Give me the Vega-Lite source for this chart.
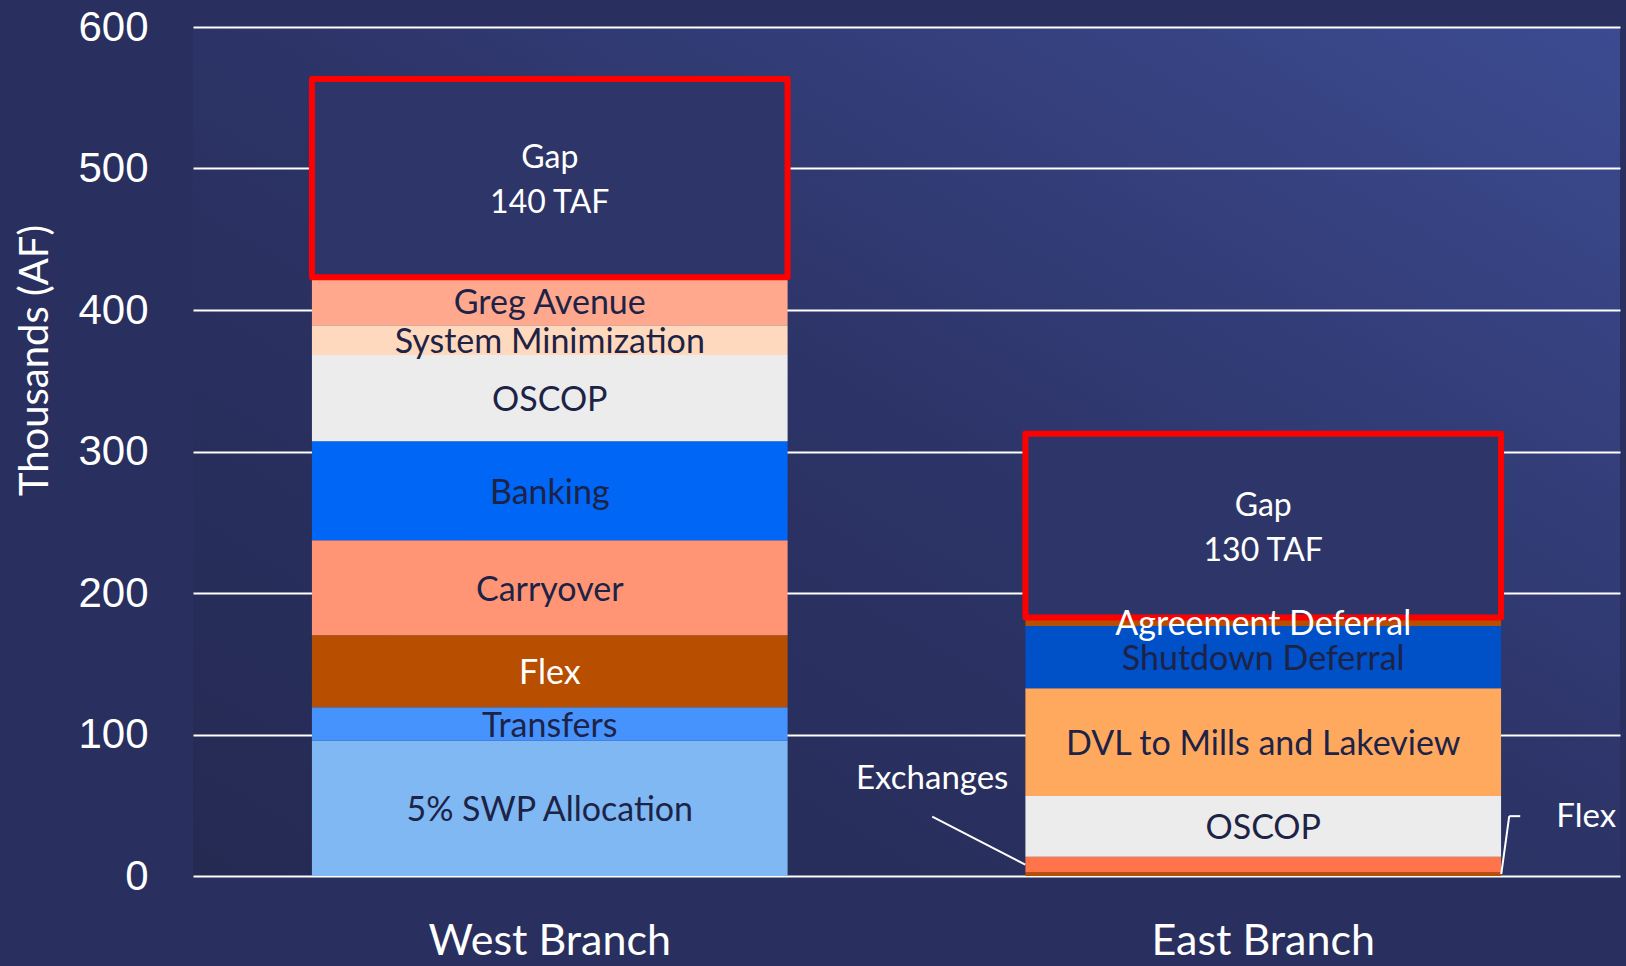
{
  "$schema": "https://vega.github.io/schema/vega-lite/v6.json",
  "width": 1427,
  "height": 849,
  "autosize": {"type": "none"},
  "padding": {"left": 193, "top": 27, "right": 6, "bottom": 90},
  "background": "#292f5e",
  "config": {
    "view": {
      "stroke": null,
      "fill": {
        "gradient": "linear",
        "x1": 0, "y1": 1, "x2": 1, "y2": 0,
        "stops": [
          {"offset": 0, "color": "#242a52"},
          {"offset": 0.5, "color": "#2c3366"},
          {"offset": 1, "color": "#3c4b91"}
        ]
      }
    },
    "font": "Lato"
  },
  "data": {
    "values": [
      {"branch": "West Branch", "category": "5% SWP Allocation", "label": "5% SWP Allocation", "order": 1, "value": 95.6},
      {"branch": "West Branch", "category": "Transfers", "label": "Transfers", "order": 2, "value": 23.6},
      {"branch": "West Branch", "category": "Flex", "label": "Flex", "order": 3, "value": 51},
      {"branch": "West Branch", "category": "Carryover", "label": "Carryover", "order": 4, "value": 67},
      {"branch": "West Branch", "category": "Banking", "label": "Banking", "order": 5, "value": 70},
      {"branch": "West Branch", "category": "OSCOP", "label": "OSCOP", "order": 6, "value": 61},
      {"branch": "West Branch", "category": "System Minimization", "label": "System Minimization", "order": 7, "value": 21},
      {"branch": "West Branch", "category": "Greg Avenue", "label": "Greg Avenue", "order": 8, "value": 34},
      {"branch": "West Branch", "category": "Gap", "label": "Gap\n140 TAF", "order": 9, "value": 140},
      {"branch": "East Branch", "category": "Flex", "label": "", "order": 1, "value": 2.6},
      {"branch": "East Branch", "category": "Exchanges", "label": "", "order": 2, "value": 11},
      {"branch": "East Branch", "category": "OSCOP", "label": "OSCOP", "order": 3, "value": 43},
      {"branch": "East Branch", "category": "DVL to Mills and Lakeview", "label": "DVL to Mills and Lakeview", "order": 4, "value": 76},
      {"branch": "East Branch", "category": "Shutdown Deferral", "label": "Shutdown Deferral", "order": 5, "value": 44},
      {"branch": "East Branch", "category": "Agreement Deferral", "label": "Agreement Deferral", "order": 6, "value": 6},
      {"branch": "East Branch", "category": "Gap", "label": "Gap\n130 TAF", "order": 7, "value": 130}
    ]
  },
  "transform": [
    {"stack": "value", "groupby": ["branch"], "sort": [{"field": "order"}], "as": ["v0", "v1"]},
    {"calculate": "(datum.v0 + datum.v1) / 2", "as": "vmid"}
  ],
  "encoding": {
    "x": {
      "field": "branch",
      "type": "nominal",
      "sort": ["West Branch", "East Branch"],
      "scale": {"paddingInner": 0.3333, "paddingOuter": 0.1667},
      "axis": {
        "title": null,
        "domain": false,
        "ticks": false,
        "tickSize": 0,
        "labelFont": "Lato",
        "labelFontSize": 43,
        "labelColor": "#ffffff",
        "labelPadding": 78,
        "labelBaseline": "alphabetic",
        "labelAngle": 0,
        "labelLimit": 600
      }
    }
  },
  "layer": [
    {
      "mark": {"type": "bar", "strokeWidth": 6, "strokeJoin": "round"},
      "encoding": {
        "y": {
          "field": "v1",
          "type": "quantitative",
          "scale": {"domain": [0, 600], "nice": false},
          "axis": {
            "values": [0, 100, 200, 300, 400, 500, 600],
            "grid": true,
            "gridColor": "#ffffff",
            "gridWidth": 2,
            "gridOpacity": 1,
            "domain": false,
            "ticks": false,
            "tickSize": 0,
            "labelFont": "Liberation Sans",
            "labelFontSize": 42,
            "labelColor": "#ffffff",
            "labelPadding": 45,
            "labelFlush": false,
            "labelOverlap": false,
            "title": "Thousands (AF)",
            "titleFont": "Lato",
            "titleFontSize": 40,
            "titleFontWeight": "normal",
            "titleColor": "#ffffff",
            "titleAngle": 270,
            "titleX": -158,
            "titleY": 333,
            "titleAlign": "center",
            "titleBaseline": "middle"
          }
        },
        "y2": {"field": "v0"},
        "color": {
          "field": "category",
          "type": "nominal",
          "legend": null,
          "scale": {
            "domain": ["5% SWP Allocation", "Transfers", "Flex", "Carryover", "Banking", "OSCOP", "System Minimization", "Greg Avenue", "Gap", "Exchanges", "DVL to Mills and Lakeview", "Shutdown Deferral", "Agreement Deferral"],
            "range": ["#7fb8f3", "#4793fe", "#b84f00", "#ff9574", "#0066f5", "#ececec", "#ffd9bd", "#ffa88d", "#2e3669", "#ff744a", "#ffa95f", "#0050c8", "#b84f00"]
          }
        },
        "stroke": {"condition": {"test": "datum.category === 'Gap'", "value": "#ff0000"}, "value": null}
      }
    },
    {
      "transform": [{"filter": "datum.label != '' && datum.category != 'Gap'"}],
      "mark": {"type": "text", "font": "Lato", "fontSize": 34, "dy": 3},
      "encoding": {
        "y": {"field": "vmid", "type": "quantitative"},
        "text": {"field": "label"},
        "color": {
          "condition": {"test": "datum.category === 'Flex' || datum.category === 'Agreement Deferral'", "value": "#ffffff"},
          "value": "#1d2346"
        }
      }
    },
    {
      "transform": [{"filter": "datum.category == 'Gap'"}],
      "mark": {"type": "text", "font": "Lato", "fontSize": 32, "lineBreak": "\n", "lineHeight": 45, "color": "#ffffff", "dy": -20},
      "encoding": {
        "y": {"field": "vmid", "type": "quantitative"},
        "text": {"field": "label"}
      }
    },
    {
      "transform": [{"filter": "datum.branch == 'East Branch' && datum.category == 'Exchanges'"}],
      "mark": {"type": "rule", "color": "#ffffff", "strokeWidth": 2, "xOffset": -238, "x2Offset": -331, "y2Offset": -48},
      "encoding": {
        "x2": {"field": "branch"},
        "y": {"field": "vmid", "type": "quantitative"},
        "y2": {"field": "vmid"}
      }
    },
    {
      "transform": [{"filter": "datum.branch == 'East Branch' && datum.category == 'Exchanges'"}],
      "mark": {"type": "text", "font": "Lato", "fontSize": 33, "color": "#ffffff", "dx": -331, "dy": -86},
      "encoding": {
        "y": {"field": "vmid", "type": "quantitative"},
        "text": {"field": "category"}
      }
    },
    {
      "transform": [{"filter": "datum.branch == 'East Branch' && datum.category == 'Flex'"}],
      "mark": {"type": "rule", "color": "#ffffff", "strokeWidth": 2, "xOffset": 238, "x2Offset": 246, "y2Offset": -58},
      "encoding": {
        "x2": {"field": "branch"},
        "y": {"field": "vmid", "type": "quantitative"},
        "y2": {"field": "vmid"}
      }
    },
    {
      "transform": [{"filter": "datum.branch == 'East Branch' && datum.category == 'Flex'"}],
      "mark": {"type": "rule", "color": "#ffffff", "strokeWidth": 2, "xOffset": 246, "x2Offset": 257, "yOffset": -58, "y2Offset": -58},
      "encoding": {
        "x2": {"field": "branch"},
        "y": {"field": "vmid", "type": "quantitative"},
        "y2": {"field": "vmid"}
      }
    },
    {
      "transform": [{"filter": "datum.branch == 'East Branch' && datum.category == 'Flex'"}],
      "mark": {"type": "text", "font": "Lato", "fontSize": 33, "color": "#ffffff", "dx": 323, "dy": -57},
      "encoding": {
        "y": {"field": "vmid", "type": "quantitative"},
        "text": {"field": "category"}
      }
    }
  ]
}
